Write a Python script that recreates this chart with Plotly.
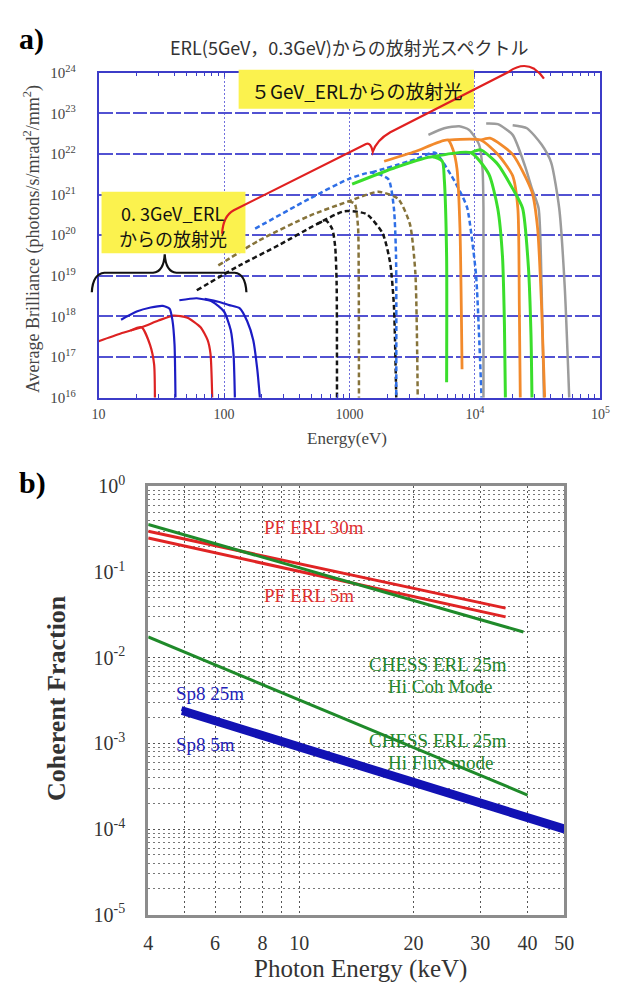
import plotly.graph_objects as go

# The page body has a default 8px margin, so the figure is placed at (8, 8)
# inside the 622x997 window; size it to fill the remaining area.
OFF = 8
W, H = 622 - OFF, 997 - OFF


def px(x):
    return (x - OFF) / W


def py(y):
    return 1 - (y - OFF) / H


# ---------------- Panel a data (energy in eV, average brilliance) ----------------
red_a_E = [10, 15, 22, 30, 39.5, 51, 65, 74, 78, 80.5]
red_a_B = [2.45e17, 3.8e17, 5.4e17, 7.9e17, 1.05e18, 9.3e17, 5.4e17, 2.6e17, 1.2e17, 1.0e16]
red_b_E = [18, 22, 25.7, 27.7, 28.1]
red_b_B = [4.5e17, 5.4e17, 2.0e17, 6.6e16, 1.0e16]

blue_c_E = [15.1, 20.1, 26, 32.5, 36.8, 38.8, 40.3, 41]
blue_c_B = [8.3e17, 1.32e18, 1.66e18, 1.82e18, 1.55e18, 7.9e17, 2.0e17, 1.0e16]
blue_d_E = [44, 60.6, 80.6, 99.9, 113, 119, 122]
blue_d_B = [2.5e18, 2.8e18, 2.3e18, 1.32e18, 4.6e17, 1.2e17, 1.0e16]
blue_e_E = [70, 90, 110, 133, 153, 171, 184, 193]
blue_e_B = [2.7e18, 2.3e18, 1.9e18, 1.6e18, 7.6e17, 2.6e17, 5.0e16, 1.0e16]

black_f_E = [60.6, 133, 271, 554, 914, 1370, 1840, 2110, 2260, 2360]
black_f_B = [4.4e18, 1.8e19, 5.6e19, 1.9e20, 3.9e20, 3.3e20, 1.1e20, 2.1e19, 1.9e18, 1.0e16]
black_g_E = [554, 650, 730, 770, 790, 795]
black_g_B = [1.9e20, 2.3e20, 1.4e20, 5.0e19, 6.3e18, 1.0e16]

brown_1_E = [90, 190, 480, 981, 1700, 2440, 3030, 3350, 3500]
brown_1_B = [1.8e19, 7.4e19, 3.0e20, 6.8e20, 1.17e21, 7.9e20, 1.9e20, 1.2e19, 1.0e16]
brown_2_E = [981, 1100, 1170, 1185, 1190]
brown_2_B = [6.8e20, 6.0e20, 1.6e20, 1.0e19, 1.0e16]

bdash_1_E = [177, 480, 981, 1500, 2040, 2260, 2350, 2360]
bdash_1_B = [1.45e20, 7.9e20, 2.4e21, 3.5e21, 2.4e21, 4.6e20, 3.1e19, 1.0e16]
bdash_2_E = [1500, 3350, 4800, 6500, 7900, 8700, 10200, 10800, 11300]
bdash_2_B = [3.5e21, 7.4e21, 1.07e22, 2.9e21, 9.5e20, 4.6e20, 1.1e19, 3.2e17, 1.0e16]

green_1_E = [1050, 2350, 4600, 5500, 5700, 5950, 5950]
green_1_B = [1.8e21, 4.7e21, 8.5e21, 6.6e21, 2.4e21, 2.9e19, 2.4e16]
green_2_E = [4600, 9300, 12900, 15200, 16600, 17200, 17500]
green_2_B = [8.5e21, 1.07e22, 3.2e21, 4.6e20, 2.9e19, 6.0e17, 1.0e16]
green_3_E = [9300, 11100, 15200, 20000, 24000, 26700, 28000, 28500]
green_3_B = [1.07e22, 1.26e22, 5.6e21, 1.4e21, 4.6e20, 1.66e19, 3.5e17, 1.0e16]

orange_1_E = [1890, 3350, 6100, 6700, 7200, 7600, 7900]
orange_1_B = [6.6e21, 1.15e22, 2.2e22, 1.26e22, 4.3e21, 1.5e20, 5.0e16]
orange_2_E = [6100, 11100, 15200, 20000, 22000, 22600, 23000]
orange_2_B = [2.2e22, 2.2e22, 9.8e21, 2.9e21, 4.6e20, 1.8e18, 1.0e16]
orange_3_E = [11100, 13200, 20000, 28500, 31600, 34000, 36000]
orange_3_B = [2.2e22, 2.45e22, 9.8e21, 1.17e21, 1.5e20, 1.8e18, 1.0e16]

gray_1_E = [4260, 5700, 7500, 9000, 10800, 11500, 11700, 11700]
gray_1_B = [2.95e22, 4.3e22, 4.8e22, 3.9e22, 1.7e22, 4.3e21, 4.6e20, 1.0e16]
gray_2_E = [12300, 15200, 20000, 25100, 28500, 32200, 34000, 35500]
gray_2_B = [5.6e22, 5.4e22, 2.95e22, 5.0e21, 1.4e21, 4.6e20, 5.5e18, 1.0e16]
gray_3_E = [20000, 26000, 34000, 40500, 47000, 52000, 56500]
gray_3_B = [5.1e22, 4.3e22, 1.7e22, 6.2e21, 4.6e20, 5.5e18, 1.0e16]

a_xtick_vals = [10, 100, 1000, 1e4, 1e5]
a_xtick_text = ["10", "100", "1000", "10<sup>4</sup>", "10<sup>5</sup>"]
a_ytick_exp = [16, 17, 18, 19, 20, 21, 22, 23, 24]

# ---------------- Panel b data (photon energy keV, coherent fraction) ----------------
pf30_E = [4, 35]
pf30_F = [0.30, 0.038]
pf5_E = [4, 35]
pf5_F = [0.25, 0.030]
chess_coh_E = [4, 39]
chess_coh_F = [0.36, 0.020]
chess_flux_E = [4, 40]
chess_flux_F = [0.0175, 2.5e-4]
sp8_25_E = [4.9, 50]
sp8_25_F = [2.55e-3, 1.06e-4]
sp8_5_E = [4.9, 50]
sp8_5_F = [2.3e-3, 0.95e-4]

b_xtick_vals = [4, 5, 6, 7, 8, 9, 10, 20, 30, 40, 50]
b_xtick_text = ["4", "", "6", "", "8", "", "10", "20", "30", "40", "50"]
b_ytick_exp = [0, -1, -2, -3, -4, -5]

# ---------------- figure ----------------
BLUE_AX = "#3c3cc8"
SERIF = "Liberation Serif, Times New Roman, serif"
JP = "Noto Sans CJK JP, sans-serif"

fig = go.Figure()


def add_a(E, B, color, width=2.5, dash=None):
    fig.add_trace(go.Scatter(
        x=E, y=B, mode="lines", xaxis="x", yaxis="y", hoverinfo="skip",
        line=dict(color=color, width=width, dash=dash, shape="spline", smoothing=0.6)))


def add_b(E, F, color, width):
    fig.add_trace(go.Scatter(
        x=E, y=F, mode="lines", xaxis="x2", yaxis="y2", hoverinfo="skip",
        line=dict(color=color, width=width)))


DASH = "5px,3px"
add_a(black_g_E, black_g_B, "#151515", 2.5, DASH)
add_a(black_f_E, black_f_B, "#151515", 2.5, DASH)
add_a(brown_2_E, brown_2_B, "#86733a", 2.5, DASH)
add_a(brown_1_E, brown_1_B, "#86733a", 2.5, DASH)
add_a(bdash_1_E, bdash_1_B, "#2f6fe6", 2.5, DASH)
add_a(bdash_2_E, bdash_2_B, "#2f6fe6", 2.5, DASH)
add_a(red_b_E, red_b_B, "#dd2222", 2.2)
add_a(red_a_E, red_a_B, "#dd2222", 2.2)
add_a(blue_c_E, blue_c_B, "#1c1cc4", 2.2)
add_a(blue_d_E, blue_d_B, "#1c1cc4", 2.2)
add_a(blue_e_E, blue_e_B, "#1c1cc4", 2.2)
add_a(gray_1_E, gray_1_B, "#9c9c9c", 2.5)
add_a(gray_2_E, gray_2_B, "#9c9c9c", 2.5)
add_a(gray_3_E, gray_3_B, "#9c9c9c", 2.5)
add_a(orange_1_E, orange_1_B, "#f28a2c", 2.8)
add_a(orange_2_E, orange_2_B, "#f28a2c", 2.8)
add_a(orange_3_E, orange_3_B, "#f28a2c", 2.8)
add_a(green_1_E, green_1_B, "#3ade2c", 3)
add_a(green_2_E, green_2_B, "#3ade2c", 3)
add_a(green_3_E, green_3_B, "#3ade2c", 3)

add_b(pf30_E, pf30_F, "#e02424", 3)
add_b(pf5_E, pf5_F, "#e02424", 3)
add_b(chess_coh_E, chess_coh_F, "#1f8a2a", 3)
add_b(chess_flux_E, chess_flux_F, "#1f8a2a", 3)
add_b(sp8_25_E, sp8_25_F, "#1212b4", 5)
add_b(sp8_5_E, sp8_5_F, "#1212b4", 5)

a_minor = [k * 10 ** n for n in range(1, 5) for k in range(2, 10)]
b_minor_y = [k * 10.0 ** n for n in range(-5, 0) for k in range(2, 10)]

fig.update_layout(
    width=W, height=H, margin=dict(l=0, r=0, t=0, b=0),
    paper_bgcolor="white", plot_bgcolor="white", showlegend=False,
    xaxis=dict(
        type="log", range=[1, 5], domain=[px(94), px(610)], anchor="y",
        showline=True, linecolor=BLUE_AX, linewidth=1.5, mirror="allticks",
        tickmode="array", tickvals=a_xtick_vals, ticktext=a_xtick_text,
        ticks="inside", ticklen=5, tickcolor=BLUE_AX,
        showgrid=True, gridcolor="#7070dd", gridwidth=1, griddash="2px,2px",
        minor=dict(tickmode="array", tickvals=a_minor, ticks="inside", ticklen=4,
                   tickcolor=BLUE_AX, showgrid=False),
        tickfont=dict(family=SERIF, size=14, color="#444"), ticklabelstandoff=3,
        zeroline=False),
    yaxis=dict(
        type="log", range=[16, 24], domain=[py(394), py(61)], anchor="x",
        showline=True, linecolor=BLUE_AX, linewidth=1.5, mirror=True,
        tickmode="array", tickvals=[10.0 ** e for e in a_ytick_exp],
        ticktext=["10<sup>%d</sup>" % e for e in a_ytick_exp],
        ticks="", showgrid=True, gridcolor="#5252d2", gridwidth=1.6, griddash="14px,3px",
        tickfont=dict(family=SERIF, size=15, color="#444"), ticklabelstandoff=18,
        zeroline=False),
    xaxis2=dict(
        type="log", range=[0.60206, 1.69897], domain=[px(145), px(573)], anchor="y2",
        showline=True, linecolor="#8c8c8c", linewidth=3, mirror=True,
        tickmode="array", tickvals=b_xtick_vals, ticktext=b_xtick_text, ticks="",
        showgrid=True, gridcolor="#555", gridwidth=1, griddash="2px,3px",
        tickfont=dict(family=SERIF, size=20, color="#333"), ticklabelstandoff=8,
        zeroline=False),
    yaxis2=dict(
        type="log", range=[-5, 0], domain=[py(924), py(485)], anchor="x2",
        showline=True, linecolor="#8c8c8c", linewidth=3, mirror=True,
        tickmode="array", tickvals=[10.0 ** e for e in b_ytick_exp],
        ticktext=["10<sup>%d</sup>" % e for e in b_ytick_exp], ticks="",
        showgrid=True, gridcolor="#555", gridwidth=1, griddash="2px,3px",
        minor=dict(tickmode="array", tickvals=b_minor_y, ticks="", showgrid=True,
                   gridcolor="#777", gridwidth=1, griddash="2px,3px"),
        tickfont=dict(family=SERIF, size=20, color="#333"), ticklabelstandoff=16,
        zeroline=False),
)


def path(cmds):
    out = []
    for c in cmds:
        out.append(c[0] + " " + " ".join("%.5f,%.5f" % (px(x), py(y)) for x, y in c[1:]))
    return " ".join(out)


YELLOW = "#fbf24e"
shapes = [
    dict(type="rect", xref="paper", yref="paper", x0=px(238), x1=px(480), y0=py(98), y1=py(58),
         fillcolor=YELLOW, line=dict(width=0), layer="above"),
    dict(type="rect", xref="paper", yref="paper", x0=px(97), x1=px(245), y0=py(246), y1=py(183),
         fillcolor=YELLOW, line=dict(width=0), layer="above"),
    # black brace under the 0.3 GeV box
    dict(type="path", xref="paper", yref="paper", layer="above",
         path=path([("M", (87, 286)), ("Q", (88, 267), (100, 266)), ("L", (150, 266)),
                    ("Q", (161, 265), (162, 247)), ("Q", (163, 265), (174, 266)),
                    ("L", (234, 266)), ("Q", (245, 267), (246, 286))]),
         line=dict(color="#111", width=2.2)),
    # red brace spanning the 5 GeV spectra
    dict(type="path", xref="paper", yref="paper", layer="above",
         path=path([("M", (221, 226)), ("Q", (222, 208), (233, 202)), ("L", (369, 134)),
                    ("Q", (374, 132), (376, 142)), ("Q", (380, 130), (394, 122)),
                    ("L", (516, 60)), ("Q", (530, 50), (542, 57)), ("Q", (548, 61), (552, 67))]),
         line=dict(color="#e02020", width=2.2)),
]
fig.update_layout(shapes=shapes)


def ann(x, y, text, size, color="#222", family=SERIF, xanchor="center", angle=0, bold=False):
    if bold:
        text = "<b>%s</b>" % text
    return dict(x=px(x), y=py(y), xref="paper", yref="paper", text=text, showarrow=False,
                xanchor=xanchor, yanchor="middle", textangle=angle,
                font=dict(family=family, size=size, color=color))


annotations = [
    ann(10, 26, "a)", 30, "#000", xanchor="left", bold=True),
    ann(10, 481, "b)", 30, "#000", xanchor="left", bold=True),
    ann(352, 35, "ERL(5GeV，0.3GeV)からの放射光スペクトル", 18, "#333", JP),
    ann(359, 79, "５GeV_ERLからの放射光", 19, "#111", JP),
    ann(171, 205, "0. 3GeV_ERL", 18, "#111", JP),
    ann(171, 230, "からの放射光", 18, "#111", JP),
    ann(25, 232, "Average Brilliance (photons/s/mrad<sup>2</sup>/mm<sup>2</sup>)", 18, "#444", SERIF, angle=-90),
    ann(349, 436, "Energy(eV)", 17, "#444"),
    ann(50, 702, "Coherent Fraction", 26, "#333", angle=-90, bold=True),
    ann(363, 980, "Photon Energy (keV)", 25, "#333"),
    ann(262, 527, "PF ERL 30m", 19, "#e03030", xanchor="left"),
    ann(262, 597, "PF ERL 5m", 19, "#e03030", xanchor="left"),
    ann(370, 668, "CHESS ERL 25m", 19, "#25862c", xanchor="left"),
    ann(390, 690, "Hi Coh Mode", 19, "#25862c", xanchor="left"),
    ann(370, 745, "CHESS ERL 25m", 19, "#25862c", xanchor="left"),
    ann(390, 768, "Hi Flux mode", 19, "#25862c", xanchor="left"),
    ann(172, 697, "Sp8 25m", 19, "#2323b8", xanchor="left"),
    ann(172, 750, "Sp8 5m", 19, "#2323b8", xanchor="left"),
]
fig.update_layout(annotations=annotations)

fig.write_html("out.html")
